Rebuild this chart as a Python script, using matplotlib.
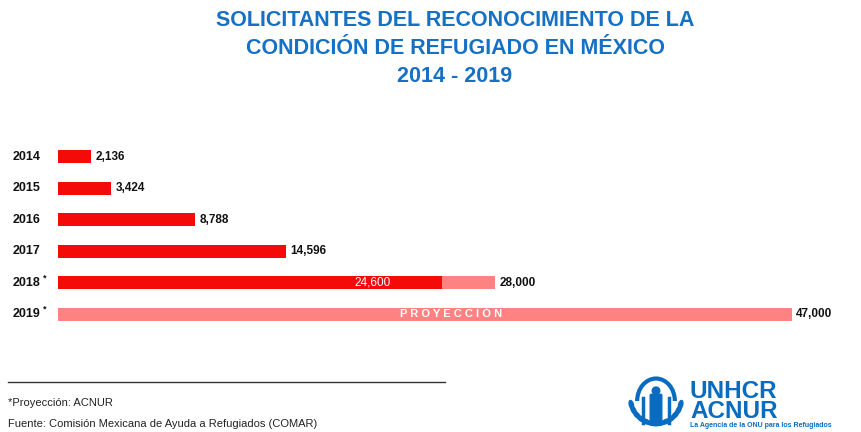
import math
import matplotlib
matplotlib.use("Agg")
import matplotlib.pyplot as plt
from matplotlib.patches import Arc, Ellipse, FancyBboxPatch

plt.rcParams['font.family'] = ['Liberation Sans', 'DejaVu Sans']

# Data
years = ["2014", "2015", "2016", "2017", "2018", "2019"]
year_marks = ["", "", "", "", "*", "*"]
registered = [2136, 3424, 8788, 14596, 24600, 0]
projected = [0, 0, 0, 0, 28000, 47000]
value_labels = ["2,136", "3,424", "8,788", "14,596", "28,000", "47,000"]
inner_label_2018 = "24,600"
projection_text = "P R O Y E C C I Ó N"

RED = "#f50a0a"
PINK = "#ff8282"
BLUE = "#1670c4"
LOGO_BLUE = "#0a6cc0"

W, H = 862, 432
fig = plt.figure(figsize=(W / 100, H / 100), dpi=100)

def fx(px):
    return px / W

def fy(py):
    return 1 - py / H

# Title
title_lines = ["SOLICITANTES DEL RECONOCIMIENTO DE LA",
               "CONDICIÓN DE REFUGIADO EN MÉXICO",
               "2014 - 2019"]
for line, py in zip(title_lines, [20, 48, 76]):
    fig.text(fx(455), fy(py), line, ha="center", va="center",
             fontsize=15.5, fontweight="bold", color=BLUE)

# Bar chart axes
ax = fig.add_axes([fx(58), fy(330), fx(792) - fx(58), fy(141) - fy(330)])
ax.set_xlim(0, 47000)
ax.set_ylim(len(years) - 0.5, -0.5)
ax.axis("off")

ypos = list(range(len(years)))
bar_h = 0.42
ax.barh(ypos, projected, height=bar_h, color=PINK, zorder=1)
ax.barh(ypos, registered, height=bar_h, color=RED, zorder=2)

for i, (yr, mark) in enumerate(zip(years, year_marks)):
    ax.annotate(yr, xy=(0, i), xytext=(-33, 0), textcoords="offset points",
                ha="left", va="center", fontsize=9, fontweight="bold",
                color="#111111", annotation_clip=False)
    if mark:
        ax.annotate(mark, xy=(0, i), xytext=(-10.5, 3.5), textcoords="offset points",
                    ha="left", va="center", fontsize=6.5, fontweight="bold",
                    color="#111111", annotation_clip=False)
    end = max(registered[i], projected[i])
    ax.annotate(value_labels[i], xy=(end, i), xytext=(3, 0), textcoords="offset points",
                ha="left", va="center", fontsize=8.5, fontweight="bold",
                color="#111111", annotation_clip=False)

ax.text(registered[4] * 0.82, 4, inner_label_2018, ha="center", va="center",
        fontsize=8.5, color="white")
ax.text(projected[5] * 0.535, 5, projection_text, ha="center", va="center",
        fontsize=8, fontweight="bold", color="white")

# Footer
fig.add_artist(plt.Line2D([fx(8), fx(445)], [fy(382), fy(382)],
                          color="#333333", linewidth=1.0))
fig.text(fx(8), fy(403), "*Proyección: ACNUR", ha="left", va="center",
         fontsize=8, color="#222222")
fig.text(fx(8), fy(424), "Fuente: Comisión Mexicana de Ayuda a Refugiados (COMAR)",
         ha="left", va="center", fontsize=8, color="#222222")

# Agency logo
lax = fig.add_axes([fx(622), fy(430), fx(690) - fx(622), fy(372) - fy(430)])
lax.set_xlim(-1, 1)
lax.set_ylim(-1, 1)
lax.set_aspect("equal")
lax.axis("off")
for side in (-1, 1):
    for k in range(7):
        ang = (195 + k * 13) if side < 0 else (345 - k * 13)
        r = 0.88
        cx = r * math.cos(math.radians(ang))
        cy = 0.1 + r * math.sin(math.radians(ang))
        lax.add_patch(Ellipse((cx, cy), 0.14, 0.3, angle=ang, color=LOGO_BLUE))
lax.add_patch(Arc((0, 0.0), 1.3, 1.55, theta1=0, theta2=180,
                  color=LOGO_BLUE, linewidth=3))
lax.add_patch(Ellipse((0, 0.35), 0.26, 0.26, color=LOGO_BLUE))
lax.add_patch(FancyBboxPatch((-0.17, -0.75), 0.34, 0.95,
                             boxstyle="round,pad=0.03", color=LOGO_BLUE))
lax.plot([-0.45, -0.45], [-0.75, 0.1], color=LOGO_BLUE, linewidth=2.5)
lax.plot([0.45, 0.45], [-0.75, 0.1], color=LOGO_BLUE, linewidth=2.5)

fig.text(fx(690), fy(418), "UNHCR\nACNUR", ha="left", va="baseline",
         fontsize=17.5, fontweight="bold", color=LOGO_BLUE, linespacing=0.82)
fig.text(fx(690), fy(425.5), "La Agencia de la ONU para los Refugiados",
         ha="left", va="center", fontsize=5, fontweight="bold", color=LOGO_BLUE)

fig.savefig("out.png", dpi=100, facecolor="white")
